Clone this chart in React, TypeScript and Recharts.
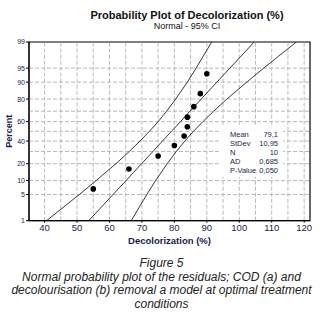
import {
  ComposedChart,
  Label,
  ReferenceArea,
  ReferenceLine,
  Scatter,
  XAxis,
  YAxis,
} from "recharts";

// observations (Decolorization %) and their plotting positions (percent)
const obsX = [55, 66, 75, 80, 83, 84, 84, 86, 88, 90];
const obsPct = [6.7, 16.3, 26.0, 35.6, 45.2, 54.8, 64.4, 74.0, 83.7, 93.3];

// fitted line and 95% CI band, read at the percent tick levels
const bandPct = [1, 5, 10, 20, 30, 40, 50, 60, 70, 80, 90, 95, 99];
const leftBandX = [40.6, 50.7, 55.9, 62.0, 66.1, 69.4, 72.3, 75.0, 77.6, 80.4, 84.0, 86.7, 91.5];
const fitX = [53.6, 61.1, 65.1, 69.9, 73.4, 76.3, 79.1, 81.9, 84.8, 88.3, 93.1, 97.1, 104.6];
const rightBandX = [66.7, 71.5, 74.2, 77.8, 80.6, 83.2, 85.9, 88.8, 92.1, 96.2, 102.3, 107.5, 117.6];

const yTickPct = [1, 5, 10, 20, 30, 40, 50, 60, 70, 80, 90, 95, 99];
const xTicks = [40, 50, 60, 70, 80, 90, 100, 110, 120];
const xGrid = [40, 45, 50, 55, 60, 65, 70, 75, 80, 85, 90, 95, 100, 105, 110, 115, 120];

const statLabels = ["Mean", "StDev", "N", "AD", "P-Value"];
const statValues = ["79,1", "10,95", "10", "0,685", "0,050"];

// inverse normal cdf (Acklam), used as the probability scale
function probit(p: number): number {
  const a = [-39.69683028665376, 220.9460984245205, -275.9285104469687, 138.357751867269, -30.66479806614716, 2.506628277459239];
  const b = [-54.47609879822406, 161.5858368580409, -155.6989798598866, 66.80131188771972, -13.28068155288572];
  const c = [-0.007784894002430293, -0.3223964580411365, -2.400758277161838, -2.549732539343734, 4.374664141464968, 2.938163982698783];
  const d = [0.007784695709041462, 0.3224671290700398, 2.445134137142996, 3.754408661907416];
  const pl = 0.02425;
  if (p < pl) {
    const q = Math.sqrt(-2 * Math.log(p));
    return (((((c[0] * q + c[1]) * q + c[2]) * q + c[3]) * q + c[4]) * q + c[5]) /
      ((((d[0] * q + d[1]) * q + d[2]) * q + d[3]) * q + 1);
  }
  if (p > 1 - pl) {
    const q = Math.sqrt(-2 * Math.log(1 - p));
    return -(((((c[0] * q + c[1]) * q + c[2]) * q + c[3]) * q + c[4]) * q + c[5]) /
      ((((d[0] * q + d[1]) * q + d[2]) * q + d[3]) * q + 1);
  }
  const q = p - 0.5;
  const r = q * q;
  return ((((((a[0] * r + a[1]) * r + a[2]) * r + a[3]) * r + a[4]) * r + a[5]) * q) /
    (((((b[0] * r + b[1]) * r + b[2]) * r + b[3]) * r + b[4]) * r + 1);
}

const zMin = probit(0.01);
const zMax = probit(0.99);
const X_MIN = 35.2;
const X_MAX = 121.8;

const toPoints = (xs: number[], ps: number[]) =>
  xs.map((x, i) => ({ x, z: probit(ps[i] / 100) }));

const observations = toPoints(obsX, obsPct);
const leftBand = toPoints(leftBandX, bandPct);
const fitLine = toPoints(fitX, bandPct);
const rightBand = toPoints(rightBandX, bandPct);

const yTickZ = yTickPct.map((p) => probit(p / 100));
const pctLabel = (z: number) => {
  const i = yTickZ.findIndex((t) => Math.abs(t - z) < 1e-6);
  return i >= 0 ? String(yTickPct[i]) : "";
};

const navy = "#1c1c4c";
const font = "'Liberation Sans', Arial, sans-serif";
const gridStroke = "#b9b9b9";

const noDot = () => <g />;
const dot = (props: any) => <circle cx={props.cx} cy={props.cy} r={2.8} fill="#000" />;

export default function App() {
  return (
    <div
      style={{
        position: "absolute",
        left: 0,
        top: 0,
        width: 323,
        height: 318,
        background: "#fff",
        fontFamily: font,
      }}
    >
      <ComposedChart
        width={323}
        height={250}
        margin={{ top: 42, right: 13, left: 0, bottom: 0 }}
        style={{ position: "absolute", left: 0, top: 0 }}
      >
        {xGrid.map((v) => (
          <ReferenceLine key={"gx" + v} x={v} stroke={gridStroke} strokeDasharray="4 2" />
        ))}
        {yTickPct.slice(1, -1).map((p) => (
          <ReferenceLine key={"gy" + p} y={probit(p / 100)} stroke={gridStroke} strokeDasharray="4 2" />
        ))}
        <XAxis
          type="number"
          dataKey="x"
          domain={[X_MIN, X_MAX]}
          allowDataOverflow
          ticks={xTicks}
          height={29.3}
          tickSize={2}
          tickMargin={2}
          stroke="#000"
          tick={{ fill: navy, fontSize: 9.5, fontFamily: font }}
        >
          <Label
            value="Decolorization (%)"
            position="insideBottom"
            offset={6}
            style={{ fill: navy, fontSize: 9.5, fontWeight: "bold", fontFamily: font }}
          />
        </XAxis>
        <YAxis
          type="number"
          dataKey="z"
          domain={[zMin, zMax]}
          allowDataOverflow
          ticks={yTickZ}
          tickFormatter={pctLabel}
          width={29}
          tickSize={3}
          tickMargin={1}
          stroke="#000"
          tick={{ fill: navy, fontSize: 7, fontFamily: font }}
        >
          <Label
            value="Percent"
            angle={-90}
            position="insideLeft"
            offset={9}
            style={{ fill: navy, fontSize: 9, fontWeight: "bold", fontFamily: font, textAnchor: "middle" }}
          />
        </YAxis>
        <ReferenceArea
          x1={X_MIN}
          x2={X_MAX}
          y1={zMin}
          y2={zMax}
          fill="none"
          stroke="#000"
          strokeWidth={1.2}
        />
        <Scatter data={leftBand} line={{ stroke: "#222", strokeWidth: 0.9 }} shape={noDot} isAnimationActive={false} />
        <Scatter data={fitLine} line={{ stroke: "#222", strokeWidth: 0.9 }} shape={noDot} isAnimationActive={false} />
        <Scatter data={rightBand} line={{ stroke: "#222", strokeWidth: 0.9 }} shape={noDot} isAnimationActive={false} />
        <Scatter data={observations} shape={dot} isAnimationActive={false} />
      </ComposedChart>

      <svg width={323} height={250} style={{ position: "absolute", left: 0, top: 0, pointerEvents: "none" }}>
        <text x={187} y={19} textAnchor="middle" fontSize={11} fontWeight="bold" fill="#111" fontFamily={font}>
          Probability Plot of Decolorization (%)
        </text>
        <text x={187} y={28.5} textAnchor="middle" fontSize={9} fill="#111" fontFamily={font}>
          Normal - 95% CI
        </text>
        <rect x={219} y={125} width={64} height={52} fill="#fff" />
        {statLabels.map((s, i) => (
          <g key={s}>
            <text x={230} y={137 + i * 9.1} fontSize={7.5} fill={navy} fontFamily={font}>
              {s}
            </text>
            <text x={278} y={137 + i * 9.1} fontSize={7.5} fill={navy} fontFamily={font} textAnchor="end">
              {statValues[i]}
            </text>
          </g>
        ))}
      </svg>

      <div
        style={{
          position: "absolute",
          left: 0,
          top: 257,
          width: 323,
          textAlign: "center",
          fontStyle: "italic",
          fontSize: 12,
          lineHeight: "13.5px",
          color: "#222",
        }}
      >
        Figure 5
        <br />
        Normal probability plot of the residuals; COD (a) and
        <br />
        decolourisation (b) removal a model at optimal treatment
        <br />
        conditions
      </div>
    </div>
  );
}
